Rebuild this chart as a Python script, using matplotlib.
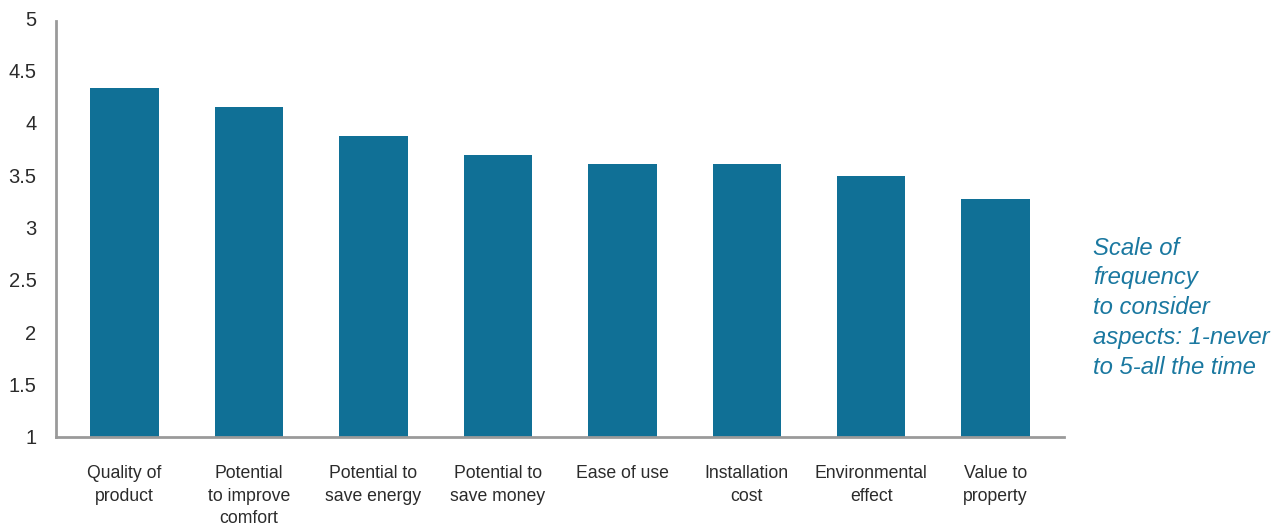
import matplotlib.pyplot as plt

plt.rcParams['font.family'] = ['Liberation Sans', 'DejaVu Sans']

# Mean rating per aspect (1-never to 5-all the time)
aspects = ['Quality of\nproduct', 'Potential\nto improve\ncomfort', 'Potential to\nsave energy',
           'Potential to\nsave money', 'Ease of use', 'Installation\ncost',
           'Environmental\neffect', 'Value to\nproperty']
scores = [4.33, 4.15, 3.87, 3.69, 3.61, 3.61, 3.49, 3.27]
yticks = [1, 1.5, 2, 2.5, 3, 3.5, 4, 4.5, 5]
ytick_labels = ['1', '1.5', '2', '2.5', '3', '3.5', '4', '4.5', '5']

bar_color = '#107096'
note_color = '#1a78a0'

fig = plt.figure(figsize=(12.81, 5.27), dpi=100)
ax = fig.add_axes([0.0437, 0.1708, 0.787, 0.795])

ax.bar(range(len(aspects)), [s - 1 for s in scores], bottom=1, width=0.55, color=bar_color)

ax.set_xlim(-0.55, 7.55)
ax.set_ylim(1, 5)
ax.set_yticks(yticks)
ax.set_yticklabels(ytick_labels, fontsize=14.5, color='#2b2b2b')
ax.set_xticks(range(len(aspects)))
ax.set_xticklabels(aspects, fontsize=12.7, color='#2b2b2b', linespacing=1.45, va='top')
ax.tick_params(axis='both', length=0)
ax.tick_params(axis='y', pad=14)
ax.tick_params(axis='x', pad=20)

for side in ['top', 'right']:
    ax.spines[side].set_visible(False)
for side in ['left', 'bottom']:
    ax.spines[side].set_color('#9a9a9a')
    ax.spines[side].set_linewidth(2)
ax.spines['left'].set_bounds(1, 4.97)

fig.text(0.853, 0.551, 'Scale of\nfrequency\nto consider\naspects: 1-never\nto 5-all the time',
         fontsize=17.2, style='italic', color=note_color, va='top', ha='left', linespacing=1.38)

fig.savefig('out.png', dpi=100)
